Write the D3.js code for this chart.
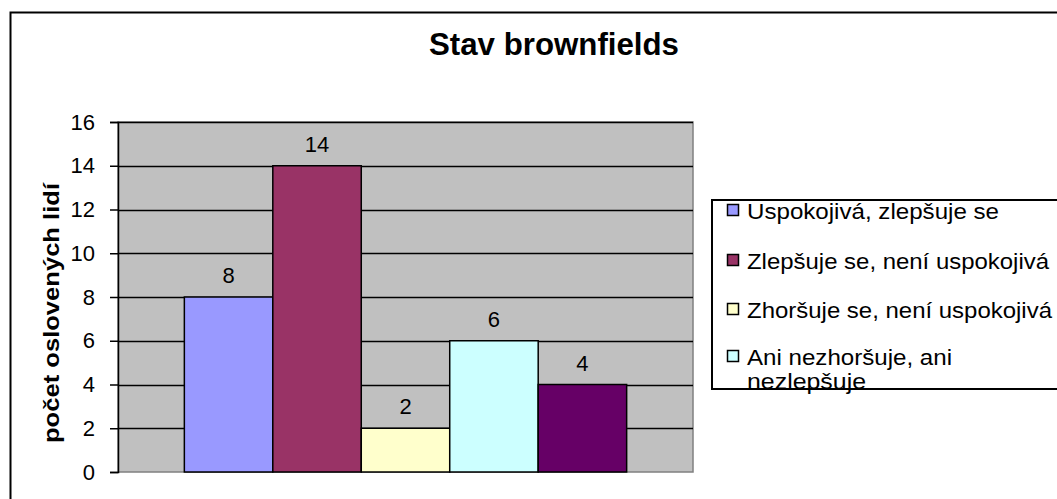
<!DOCTYPE html>
<meta charset="utf-8">
<style>
  body { margin: 0; background: #fff; }
  text { font-family: "Liberation Sans", Arial, sans-serif; }
</style>
<body>
<script src="https://d3js.org/d3.v7.min.js"></script>
<script>
var width = 1057,
    height = 499;

// data
var values = [8, 14, 2, 6, 4];
var colors = ["#9999ff", "#993366", "#ffffcc", "#ccffff", "#660066"];
var yTicks = [0, 2, 4, 6, 8, 10, 12, 14, 16];
var legendLines = [["Uspokojivá, zlepšuje se"], ["Zlepšuje se, není uspokojivá"],
                   ["Zhoršuje se, není uspokojivá"], ["Ani nezhoršuje, ani", "nezlepšuje"]];
var legendWidths = [[252], [302], [305], [205, 119]];

var plot = {left: 118, right: 693, top: 122, bottom: 472};

var svg = d3.select("body").append("svg")
    .attr("width", width)
    .attr("height", height);

// chart border
svg.append("rect")
    .attr("x", 10.5).attr("y", 12.5)
    .attr("width", 1100).attr("height", 600)
    .attr("fill", "#fff")
    .attr("stroke", "#000").attr("stroke-width", 2);

svg.append("text")
    .attr("x", 554).attr("y", 55)
    .attr("text-anchor", "middle")
    .attr("font-size", 31).attr("font-weight", "bold")
    .attr("textLength", 250).attr("lengthAdjust", "spacingAndGlyphs")
    .text("Stav brownfields");

var y = d3.scaleLinear().domain([0, 16]).range([plot.bottom, plot.top]);
var x = d3.scaleBand().domain(d3.range(values.length))
    .range([plot.left, plot.right])
    .paddingOuter(0.75).paddingInner(0);

// plot area
svg.append("rect")
    .attr("x", plot.left).attr("y", plot.top)
    .attr("width", plot.right - plot.left).attr("height", plot.bottom - plot.top)
    .attr("fill", "#c0c0c0")
    .attr("stroke", "#808080").attr("stroke-width", 1.5);

svg.append("g").selectAll("line")
  .data(yTicks.filter(function(d) { return d > 0; }))
  .enter().append("line")
    .attr("x1", plot.left).attr("x2", plot.right)
    .attr("y1", function(d) { return Math.round(y(d)) + 0.5; })
    .attr("y2", function(d) { return Math.round(y(d)) + 0.5; })
    .attr("stroke", "#000").attr("stroke-width", 1.5);

// y axis
var yAxis = d3.axisLeft(y).tickValues(yTicks).tickSize(8).tickPadding(15);
var ga = svg.append("g")
    .attr("transform", "translate(" + plot.left + ",0)")
    .call(yAxis);
ga.select(".domain").attr("stroke", "#000").attr("stroke-width", 1.5);
ga.selectAll(".tick line").attr("stroke", "#000").attr("stroke-width", 1.5);
ga.selectAll(".tick text")
    .attr("font-size", 22).attr("fill", "#000")
    .style("font-family", "'Liberation Sans', Arial, sans-serif");

svg.append("text")
    .attr("transform", "translate(59,313) rotate(-90)")
    .attr("text-anchor", "middle")
    .attr("font-size", 22).attr("font-weight", "bold")
    .attr("textLength", 260).attr("lengthAdjust", "spacingAndGlyphs")
    .text("počet oslovených lidí");

// bars
svg.append("g").selectAll("rect")
  .data(values)
  .enter().append("rect")
    .attr("x", function(d, i) { return x(i); })
    .attr("y", function(d) { return y(d); })
    .attr("width", x.bandwidth())
    .attr("height", function(d) { return plot.bottom - y(d); })
    .attr("fill", function(d, i) { return colors[i]; })
    .attr("stroke", "#000").attr("stroke-width", 1.5);

svg.append("g").selectAll("text")
  .data(values)
  .enter().append("text")
    .attr("x", function(d, i) { return x(i) + x.bandwidth() / 2; })
    .attr("y", function(d) { return y(d) - 14; })
    .attr("text-anchor", "middle")
    .attr("font-size", 22)
    .text(function(d) { return d; });

// legend
var lg = svg.append("g");
var rowY = [219, 269, 318, 365];
legendLines.forEach(function(lines, i) {
  lg.append("rect")
    .attr("x", 727.5).attr("y", rowY[i] - 14.5)
    .attr("width", 11).attr("height", 11)
    .attr("fill", colors[i])
    .attr("stroke", "#000").attr("stroke-width", 1.5);
  lines.forEach(function(t, k) {
    lg.append("text")
      .attr("x", 747).attr("y", rowY[i] + k * 24)
      .attr("font-size", 22)
      .attr("textLength", legendWidths[i][k]).attr("lengthAdjust", "spacingAndGlyphs")
      .text(t);
  });
});
lg.append("rect")
    .attr("x", 712).attr("y", 200)
    .attr("width", 400).attr("height", 189)
    .attr("fill", "none")
    .attr("stroke", "#000").attr("stroke-width", 2);
</script>
</body>
